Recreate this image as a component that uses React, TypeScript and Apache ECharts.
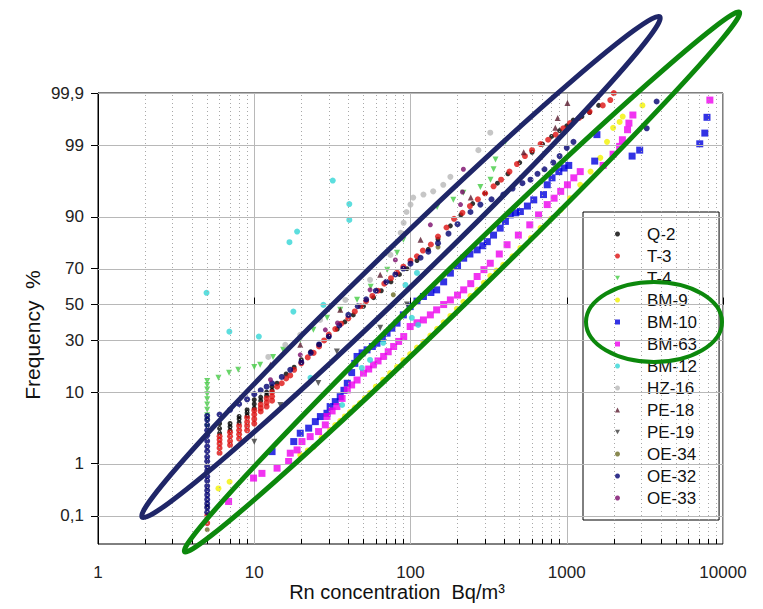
import React, { useEffect, useRef } from "react";
import * as echarts from "echarts";

type P = [number, number]; // [Rn concentration Bq/m3, cumulative frequency %]

const yTickPercents = [0.1, 1, 10, 30, 50, 70, 90, 99, 99.9];
const yTickLabels = ["0,1", "1", "10", "30", "50", "70", "90", "99", "99,9"];
const xMinorValues = [2, 3, 4, 5, 6, 7, 8, 9, 20, 30, 40, 50, 60, 70, 80, 90, 200, 300, 400, 500, 600, 700, 800, 900, 2000, 3000, 4000, 5000, 6000, 7000, 8000, 9000];

const Q2: P[] = [
  [6, 3.0], [6, 3.5], [6, 4.1], [7, 3.3], [7, 3.7], [7, 4.1], [8, 4.2], [8, 4.7], [8, 5.1], [9, 5.2], [9, 5.7], [9, 6.2],
  [10, 6.5], [10, 7.3], [10, 8.2], [11, 8], [11, 8.8], [12, 9.2], [12, 10], [13, 10.5], [13, 11.5], [14, 12.5], [16, 15.5],
  [18, 18], [20, 21], [23, 24.5], [26, 28], [30, 32], [34, 36], [38, 40], [43, 44], [50, 49], [58, 54], [65, 58], [75, 63],
  [85, 67], [95, 70], [110, 74], [130, 79], [150, 83], [180, 87.5], [210, 90.5], [250, 93], [300, 94.8], [360, 96.2],
  [420, 97.2], [500, 98.1], [600, 98.7], [700, 99.05], [800, 99.3], [900, 99.45], [1000, 99.55], [1100, 99.65],
  [1250, 99.7], [1400, 99.75], [1600, 99.82],
];
const T3: P[] = [
  [5, 0.07], [5, 0.1],
  [6, 1.5], [6, 1.8], [6, 2.1], [6, 2.4], [6, 2.7], [7, 2.0], [7, 2.3], [7, 2.7], [7, 3.1], [8, 2.5], [8, 2.9], [8, 3.3], [8, 3.8],
  [9, 3.3], [9, 3.8], [9, 4.3], [9, 4.9], [10, 4.1], [10, 4.7], [10, 5.4], [10, 6.1], [11, 5.9], [11, 6.5], [11, 7.2],
  [12, 6.8], [12, 7.6], [12, 8.5], [13, 8], [13, 9], [13, 10],
  [14, 11.5], [15, 12.5], [16, 14], [17, 15], [18, 17], [20, 19.5], [22, 22], [24, 24], [26, 27], [28, 30], [30, 33], [33, 36],
  [36, 39], [40, 42], [44, 46], [48, 49], [52, 52], [57, 55], [62, 58], [68, 62], [75, 65], [82, 68], [90, 71], [100, 74],
  [110, 76], [120, 78.5], [135, 81], [150, 84], [170, 87], [190, 89.5], [215, 91], [240, 92.5], [270, 93.8], [300, 94.8],
  [340, 95.8], [380, 96.6], [430, 97.4], [480, 98], [540, 98.5], [600, 98.8], [680, 99.05], [760, 99.2], [850, 99.35],
  [950, 99.5], [1050, 99.6], [1200, 99.68], [1400, 99.76], [1700, 99.82], [1900, 99.86], [2000, 99.9],
];
const T4: P[] = [
  [5, 3.7], [5, 4.5], [5, 5.3], [5, 6.2], [5, 7.2], [5, 8.3], [5, 9.5], [5, 10.7], [5, 12], [5, 13.2],
  [5.9, 14.2], [6.9, 15.9], [7.9, 17], [10, 18.1], [10.9, 18.9], [13.2, 22.2], [15.3, 25.4], [19.7, 30.3], [23.9, 35.6],
  [29.3, 42.3], [35.5, 46.9], [45.5, 52.8], [55.6, 60.2], [71, 69.4], [82, 77.5], [90, 82.8], [116, 89.2], [148, 92.3],
  [188, 93.7], [218, 94.9], [280, 95.7], [325, 96.6], [340, 97.6], [350, 98.3], [405, 99.13],
];
const BM9: P[] = [
  [5.9, 0.36], [6.95, 0.48], [19.7, 1.4], [22, 1.65], [24, 1.88], [27, 2.6], [30.6, 3.35], [33, 3.9], [35.5, 4.45], [38, 5.1],
  [41, 5.8], [44, 6.6], [47.5, 7.5], [51, 8.6], [55, 9.8], [60, 11.5], [66.8, 13.6], [74, 15.8], [82, 18.1], [90, 20.8],
  [99.5, 23.5], [110, 26.5], [121, 29.3], [134, 32.5], [148, 36.1], [163, 39.8], [180, 43.4], [198, 47.5], [218, 51.6],
  [242, 55], [268, 58.5], [295, 62.5], [324, 66.3], [355, 69], [392, 71.9], [450, 76], [505, 79.6], [590, 83.5], [680, 86.9],
  [790, 89.5], [915, 91.7], [1050, 94], [1220, 96], [1420, 97.4], [1640, 98.4], [1810, 99.13], [1980, 99.51], [2180, 99.62],
  [2280, 99.7], [3050, 99.82],
];
const BM10: P[] = [
  [13, 1.58], [17.9, 2.26], [19.7, 3.0], [22.3, 3.54], [24.6, 4.35], [26.5, 5.08], [29.2, 5.6], [30.6, 6.8], [33, 7.8],
  [35.5, 8.9], [37.5, 10.5], [39.4, 12.5], [42, 16], [44, 19.5], [45.5, 22.4], [49, 24], [52.7, 25.4], [57, 27], [61, 28.6],
  [66, 31], [70.8, 33.8], [76, 36.5], [82, 39.3], [90, 44], [99.5, 48.8], [110, 52], [121, 54.7], [135, 57], [147, 58.5],
  [163, 63], [180, 67.7], [200, 71.5], [219, 75.1], [240, 77], [267, 78.8], [290, 80.5], [310, 82.1], [340, 84.5],
  [375, 86.8], [405, 88.8], [435, 90.5], [470, 91], [505, 91.3], [560, 92.5], [615, 93.7], [710, 94.6], [750, 96],
  [805, 96.8], [890, 97.4], [960, 97.7], [1030, 97.9], [1510, 98.2], [1560, 99.35], [2620, 98.5], [2930, 98.8],
  [7100, 99.06], [7650, 99.39], [7900, 99.69],
];
const BM63: P[] = [
  [6.85, 0.2], [9.9, 0.56], [11.2, 0.68], [14, 0.84], [16.6, 1.09], [17, 1.49], [18.8, 1.68], [20.2, 2.26], [22.8, 2.68],
  [25.8, 3.17], [28.5, 3.93], [29.2, 5.08], [31.5, 6], [33.8, 6.8], [36.5, 8.5], [39.4, 10.6], [42, 12], [45.5, 13.5],
  [50, 15.8], [54, 17.3], [58, 18.9], [62, 20.5], [67.3, 22.4], [72, 24.5], [78, 27], [84, 29.5], [90.5, 32], [99.5, 37.4],
  [110, 39.5], [121, 41.1], [134, 44], [147, 46.9], [163, 50], [180, 52.7], [200, 55.5], [219, 58.5], [243, 62], [267, 65.9],
  [295, 69.5], [324, 72.7], [370, 77], [415, 80.9], [490, 84.5], [580, 87.8], [660, 90.5], [750, 92.8], [830, 94],
  [915, 95.1], [1010, 96], [1110, 96.8], [1220, 97.4], [1710, 97.9], [1980, 98.6], [2180, 98.96], [2270, 99.2],
  [2450, 99.47], [2500, 99.6], [2650, 99.72], [8240, 99.86],
];
const BM12: P[] = [
  [4.95, 56.8], [6.93, 34.6], [10.7, 32], [16.8, 81.9], [18.8, 85.7], [31.8, 96.5], [40.6, 92.9], [40.6, 89.2], [17.8, 45.9],
  [27.7, 49.8], [22.9, 14.2], [36.5, 7.1], [48.8, 17.7], [55.1, 20.9], [66.9, 28.8], [92.8, 61.3], [110, 67.8], [102, 42.3],
  [112, 38.3],
];
const HZ16: P[] = [
  [12.3, 22.2], [15.8, 27.8], [19.7, 32.9], [26.4, 41.1], [38.3, 52.7], [55.1, 64.1], [74.4, 76.6], [86.5, 85.3], [90.4, 88.4],
  [94.3, 91.2], [100, 92.8], [104, 94.1], [121, 94.6], [139.7, 95.1], [162, 96], [180, 96.9], [272, 98.8], [324, 99.4],
];
const PE18: P[] = [
  [12.7, 18.9], [19.7, 27.8], [35.5, 46.9], [64, 66.8], [116, 82.8], [243, 94.1], [530, 98.7], [845, 99.51], [875, 99.68],
  [1010, 99.84], [1570, 99.88],
];
const PE19: P[] = [
  [10, 2.24], [14.7, 7.1], [25.7, 12.6], [33.8, 24.6], [64, 36.7], [95, 50],
];
const OE34: P[] = [
  [5, 0.05], [5, 0.09], [5, 0.16], [77.6, 55.7], [150, 80],
];
const OE32: P[] = [
  [5, 0.12], [5, 0.15], [5, 0.18], [5, 0.22], [5, 0.27], [5, 0.33], [5, 0.4], [5, 0.5], [5, 0.6], [5, 0.75], [5, 0.9], [5, 1.1],
  [5, 1.3], [5, 1.6], [5, 1.9], [5, 2.3], [5, 2.8], [5, 3.3], [5, 3.9], [5, 4.6], [5, 5.2],
  [6, 5.4], [7, 6.2], [8, 7.3], [9, 8.3], [10, 9.5], [11, 10.5], [12, 11.5], [13, 12.5], [15, 14.5], [17, 17], [20, 20],
  [23, 24], [26, 28], [30, 32], [35, 38], [40, 44], [46, 49], [52, 53], [60, 58], [70, 63], [80, 67], [90, 70], [100, 72.5],
  [116, 75.3], [130, 78], [150, 81.5], [175, 85], [200, 88], [242, 91.2], [280, 92.8], [330, 93.8], [393, 94.6], [450, 95.5],
  [520, 96.2], [586, 96.6], [650, 97.2], [720, 97.6], [820, 98.1], [900, 98.5], [1000, 98.9], [1104, 99.13], [3250, 99.5],
  [3760, 99.85],
];
const OE33: P[] = [
  [12.7, 13.6], [19.7, 23.1], [28.5, 35.6], [34.1, 39.4], [55.1, 58.5], [80, 74.3], [134, 87.8], [209, 92.8], [215, 95],
  [218, 97.6],
];

const DOWN_TRIANGLE = "path://M0,0L10,0L5,9Z";

const seriesDefs = [
  { name: "Q-2", data: Q2, color: "#000000", symbol: "circle", size: 5, rotate: 0, icon: "circle" },
  { name: "T-3", data: T3, color: "#dd1111", symbol: "circle", size: 6, rotate: 0, icon: "circle" },
  { name: "T-4", data: T4, color: "#44cc44", symbol: "triangle", size: 6, rotate: 180, icon: DOWN_TRIANGLE },
  { name: "BM-9", data: BM9, color: "#f2f200", symbol: "circle", size: 6, rotate: 0, icon: "circle" },
  { name: "BM-10", data: BM10, color: "#0000dd", symbol: "rect", size: 7, rotate: 0, icon: "rect" },
  { name: "BM-63", data: BM63, color: "#ee00ee", symbol: "rect", size: 7, rotate: 0, icon: "rect" },
  { name: "BM-12", data: BM12, color: "#33d6d6", symbol: "circle", size: 6, rotate: 0, icon: "circle" },
  { name: "HZ-16", data: HZ16, color: "#b8b8b8", symbol: "circle", size: 6, rotate: 0, icon: "circle" },
  { name: "PE-18", data: PE18, color: "#5a1a2e", symbol: "triangle", size: 6, rotate: 0, icon: "triangle" },
  { name: "PE-19", data: PE19, color: "#3c3c3c", symbol: "triangle", size: 6, rotate: 180, icon: DOWN_TRIANGLE },
  { name: "OE-34", data: OE34, color: "#6b6b24", symbol: "circle", size: 5, rotate: 0, icon: "circle" },
  { name: "OE-32", data: OE32, color: "#000070", symbol: "circle", size: 6, rotate: 0, icon: "circle" },
  { name: "OE-33", data: OE33, color: "#7a0a6a", symbol: "circle", size: 5, rotate: 0, icon: "circle" },
];

function probit(p: number): number {
  const a = [-3.969683028665376e1, 2.209460984245205e2, -2.759285104469687e2, 1.38357751867269e2, -3.066479806614716e1, 2.506628277459239];
  const b = [-5.447609879822406e1, 1.615858368580409e2, -1.556989798598866e2, 6.680131188771972e1, -1.328068155288572e1];
  const c = [-7.784894002430293e-3, -3.223964580411365e-1, -2.400758277161838, -2.549732539343734, 4.374664141464968, 2.938163982698783];
  const d = [7.784695709041462e-3, 3.224671290700398e-1, 2.445134137142996, 3.754408661907416];
  const pl = 0.02425;
  if (p < pl) {
    const q = Math.sqrt(-2 * Math.log(p));
    return (((((c[0] * q + c[1]) * q + c[2]) * q + c[3]) * q + c[4]) * q + c[5]) / ((((d[0] * q + d[1]) * q + d[2]) * q + d[3]) * q + 1);
  }
  if (p <= 1 - pl) {
    const q = p - 0.5;
    const r = q * q;
    return ((((((a[0] * r + a[1]) * r + a[2]) * r + a[3]) * r + a[4]) * r + a[5]) * q) / (((((b[0] * r + b[1]) * r + b[2]) * r + b[3]) * r + b[4]) * r + 1);
  }
  const q = Math.sqrt(-2 * Math.log(1 - p));
  return -(((((c[0] * q + c[1]) * q + c[2]) * q + c[3]) * q + c[4]) * q + c[5]) / ((((d[0] * q + d[1]) * q + d[2]) * q + d[3]) * q + 1);
}

const FONT = "'Liberation Sans', Arial, sans-serif";

export default function App() {
  const ref = useRef<HTMLDivElement>(null);
  useEffect(() => {
    if (!ref.current) return;
    const chart = echarts.init(ref.current, undefined, { renderer: "svg" });
    const yMin = -3.5;
    const yMax = probit(0.999) + 0.002;
    const yTickZ = yTickPercents.map((p) => probit(p / 100));

    const gridSeries: any = {
      name: "grid",
      type: "scatter",
      data: [],
      z: 1,
      silent: true,
      markLine: {
        silent: true,
        symbol: ["none", "none"],
        label: { show: false },
        animation: false,
        data: [
          ...yTickZ.map((z) => ({ yAxis: z, lineStyle: { color: "#b8b8b8", type: "solid", width: 1 } })),
          ...xMinorValues.map((v) => ({ xAxis: v, lineStyle: { color: "#a8a8a8", type: [1, 3], width: 1 } })),
          ...xMinorValues.map((v) => [
            { coord: [v, yMin], lineStyle: { color: "#000", type: "solid", width: 1 } },
            { coord: [v, yMin + 0.075] },
          ]),
        ],
      },
    };

    const dataSeries = seriesDefs.map((s) => ({
      name: s.name,
      type: "scatter",
      data: s.data.map(([x, p]) => [x, probit(p / 100)]),
      symbol: s.symbol,
      symbolSize: s.size,
      symbolRotate: s.rotate,
      itemStyle: { color: s.color },
      z: 3,
    }));

    chart.setOption({
      animation: false,
      backgroundColor: "#ffffff",
      grid: { left: 98, right: 40, top: 93, bottom: 65, show: true, borderColor: "#000", borderWidth: 1 },
      xAxis: {
        type: "log",
        logBase: 10,
        min: 1,
        max: 10000,
        axisLine: { show: true, lineStyle: { color: "#000", width: 1 } },
        axisTick: { show: true, inside: true, length: 7, lineStyle: { color: "#000" } },
        axisLabel: {
          fontSize: 17,
          color: "#222",
          fontFamily: FONT,
          margin: 20,
          formatter: (v: number) => String(Math.round(v)),
        },
        splitLine: { show: true, lineStyle: { color: "#b8b8b8", width: 1, type: "solid" } },
        minorTick: { show: false },
      },
      yAxis: {
        type: "value",
        min: yMin,
        max: yMax,
        axisLine: { show: true, lineStyle: { color: "#000", width: 1 } },
        axisTick: { show: true, inside: false, length: 7, customValues: yTickZ, lineStyle: { color: "#000" } },
        axisLabel: {
          customValues: yTickZ,
          showMaxLabel: true,
          showMinLabel: true,
          fontSize: 17,
          color: "#222",
          fontFamily: FONT,
          margin: 14,
          formatter: (v: number) => {
            let best = 0;
            for (let i = 1; i < yTickZ.length; i++) if (Math.abs(yTickZ[i] - v) < Math.abs(yTickZ[best] - v)) best = i;
            return yTickLabels[best];
          },
        },
        splitLine: { show: false },
      },
      legend: {
        data: seriesDefs.map((s) => ({ name: s.name, icon: s.icon })),
        orient: "vertical",
        left: 583,
        top: 212,
        padding: [13, 22, 13, 32],
        itemWidth: 5,
        itemHeight: 5,
        itemGap: 4,
        symbolKeepAspect: true,
        backgroundColor: "#ffffff",
        borderColor: "#000",
        borderWidth: 1,
        borderRadius: 0,
        textStyle: { fontSize: 17, lineHeight: 18, color: "#111", fontFamily: FONT, padding: [0, 0, 0, 22] },
        selectedMode: false,
      },
      series: [gridSeries, ...dataSeries],
      graphic: [
        {
          type: "text",
          x: 32,
          y: 335,
          rotation: Math.PI / 2,
          style: { text: "Frequency  %", fontSize: 21, fontFamily: FONT, fill: "#111", align: "center", verticalAlign: "middle" },
        },
        {
          type: "text",
          x: 397,
          y: 592,
          style: { text: "Rn concentration  Bq/m³", fontSize: 20, fontFamily: FONT, fill: "#111", align: "center", verticalAlign: "middle" },
        },
        {
          type: "ellipse",
          x: 401,
          y: 267,
          rotation: (44 * Math.PI) / 180,
          shape: { cx: 0, cy: 0, rx: 360, ry: 21 },
          style: { fill: "none", stroke: "#1f2668", lineWidth: 5 },
          z: 100,
        },
        {
          type: "ellipse",
          x: 462,
          y: 282,
          rotation: (44.2 * Math.PI) / 180,
          shape: { cx: 0, cy: 0, rx: 387, ry: 18 },
          style: { fill: "none", stroke: "#0c880c", lineWidth: 5 },
          z: 100,
        },
        {
          type: "ellipse",
          x: 654,
          y: 322,
          shape: { cx: 0, cy: 0, rx: 68, ry: 40 },
          style: { fill: "none", stroke: "#0c880c", lineWidth: 4 },
          z: 100,
        },
      ],
    });
    return () => chart.dispose();
  }, []);
  return <div ref={ref} style={{ position: "fixed", left: 0, top: 0, width: 763, height: 609 }} />;
}
